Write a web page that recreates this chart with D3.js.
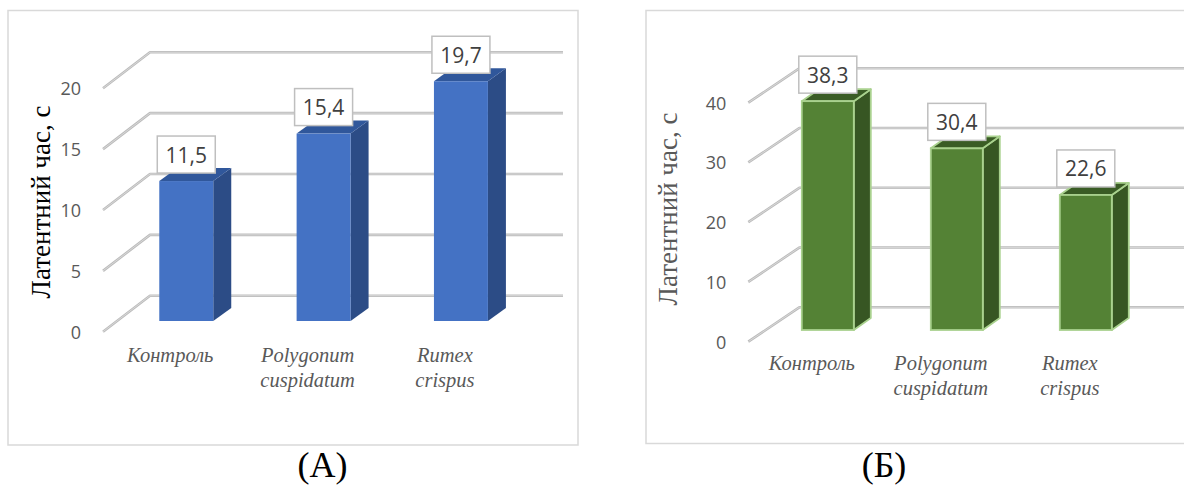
<!DOCTYPE html>
<html>
<head>
<meta charset="utf-8">
<script src="https://cdn.jsdelivr.net/npm/d3@7"></script>
<style>
  body { margin: 0; background: #fff; }
  svg { display: block; }
  .serif { font-family: "Liberation Serif", "Times New Roman", Times, serif; }
  .sans { font-family: "Open Sans", "Noto Sans", sans-serif; }
</style>
</head>
<body>
<svg id="fig" width="1184" height="485"></svg>
<script>
// Categories (multi-line italic labels), values and axis ticks
const categoryLines = [["Контроль"], ["Polygonum", "cuspidatum"], ["Rumex", "crispus"]];
const latencyA = [11.5, 15.4, 19.7];
const latencyB = [38.3, 30.4, 22.6];
const ticksA = [0, 5, 10, 15, 20];
const ticksB = [0, 10, 20, 30, 40];
const axisTitle = "Латентний час, с";
const panelNames = ["(А)", "(Б)"];

const fmt = d3.formatLocale({ decimal: ",", thousands: " ", grouping: [3], currency: ["", ""] }).format(".1f");

const svg = d3.select("#fig");

// Layout of the two pseudo-3D column panels
const panels = [
  {
    values: latencyA, ticks: ticksA, caption: panelNames[0],
    frame: { x0: 8, y0: 10.5, x1: 578, y1: 445 },
    wall: { left: 150, right: 563, bottom: 295.7, top: 52.3 },
    floor: { dx: -47, dy: 36 },
    barBase: 321,
    band: [117.6, 529.6], pad: 0.607,
    depth: { dx: 18, dy: -13 },
    colors: { front: "#4472C4", side: "#2C4C86", top: "#30579B", stroke: "none" },
    title: { x: 50, y: 202, color: "#000000" },
    catBase: 362,
    captionX: 322.5
  },
  {
    values: latencyB, ticks: ticksB, caption: panelNames[1],
    frame: { x0: 646, y0: 10.5, x1: 1200, y1: 443.5 },
    wall: { left: 799.3, right: 1190, bottom: 307.3, top: 68.3 },
    floor: { dx: -51, dy: 34.4 },
    barBase: 330,
    band: [763.3, 1150.3], pad: 0.597,
    depth: { dx: 17, dy: -12 },
    colors: { front: "#548235", side: "#375623", top: "#3A5C25", stroke: "#A9D18E" },
    title: { x: 677, y: 209, color: "#595959" },
    catBase: 370,
    captionX: 884
  }
];

panels.forEach(p => {
  const g = svg.append("g");
  const maxV = p.ticks[p.ticks.length - 1];

  // chart area border
  g.append("rect")
    .attr("x", p.frame.x0).attr("y", p.frame.y0)
    .attr("width", p.frame.x1 - p.frame.x0).attr("height", p.frame.y1 - p.frame.y0)
    .attr("fill", "none").attr("stroke", "#D9D9D9").attr("stroke-width", 1.5);

  // back wall value scale and bar front-plane value scale
  const yWall = d3.scaleLinear().domain([0, maxV]).range([p.wall.bottom, p.wall.top]);
  const yBar = d3.scaleLinear().domain([0, maxV])
    .range([p.barBase, p.barBase - (p.wall.bottom - p.wall.top)]);
  const x = d3.scaleBand().domain(d3.range(p.values.length))
    .range(p.band).paddingInner(p.pad).paddingOuter(p.pad / 2);

  // gridlines: side-wall diagonal + back-wall horizontal
  const gridPath = t => {
    const y = yWall(t);
    return `M${p.wall.left + p.floor.dx},${y + p.floor.dy}L${p.wall.left},${y}L${p.wall.right},${y}`;
  };
  const grid = g.append("g").attr("fill", "none").attr("stroke-linejoin", "round");
  grid.selectAll("path.outer").data(p.ticks).join("path").attr("class", "outer")
    .attr("d", gridPath).attr("stroke", "#BCBCBC").attr("stroke-width", 2.6);
  grid.selectAll("path.inner").data(p.ticks).join("path").attr("class", "inner")
    .attr("d", gridPath).attr("stroke", "#DADADA").attr("stroke-width", 0.9);

  // tick labels at front edge
  g.append("g").selectAll("text").data(p.ticks).join("text")
    .attr("class", "sans")
    .attr("x", p.wall.left + p.floor.dx - 22)
    .attr("y", t => yWall(t) + p.floor.dy)
    .attr("text-anchor", "end").attr("dominant-baseline", "central")
    .attr("font-size", 18)
    .attr("fill", "#595959")
    .text(t => t);

  // bars
  const bw = x.bandwidth();
  const bars = g.append("g").selectAll("g").data(p.values).join("g");
  const sw = p.colors.stroke === "none" ? 0 : 1.8;
  bars.append("polygon")
    .attr("points", (v, i) => {
      const x0 = x(i) + bw, t = yBar(v), b = p.barBase, d = p.depth;
      return [[x0, t], [x0 + d.dx, t + d.dy], [x0 + d.dx, b + d.dy], [x0, b]].join(" ");
    })
    .attr("fill", p.colors.side).attr("stroke", p.colors.stroke).attr("stroke-width", sw)
    .attr("stroke-linejoin", "round");
  bars.append("polygon")
    .attr("points", (v, i) => {
      const x0 = x(i), t = yBar(v), d = p.depth;
      return [[x0, t], [x0 + d.dx, t + d.dy], [x0 + bw + d.dx, t + d.dy], [x0 + bw, t]].join(" ");
    })
    .attr("fill", p.colors.top).attr("stroke", p.colors.stroke).attr("stroke-width", sw)
    .attr("stroke-linejoin", "round");
  bars.append("rect")
    .attr("x", (v, i) => x(i)).attr("y", v => yBar(v))
    .attr("width", bw).attr("height", v => p.barBase - yBar(v))
    .attr("fill", p.colors.front).attr("stroke", p.colors.stroke).attr("stroke-width", sw);

  // value callouts
  const boxW = 58, boxH = 37, gap = 8;
  const lab = g.append("g").selectAll("g").data(p.values).join("g")
    .attr("transform", (v, i) => `translate(${x(i) + bw / 2},${yBar(v) - gap - boxH / 2})`);
  lab.append("rect")
    .attr("x", -boxW / 2).attr("y", -boxH / 2).attr("width", boxW).attr("height", boxH)
    .attr("fill", "#FFFFFF").attr("stroke", "#BFBFBF").attr("stroke-width", 1.5);
  lab.append("text")
    .attr("class", "sans")
    .attr("text-anchor", "middle").attr("dominant-baseline", "central")
    .attr("font-size", 21)
    .attr("fill", "#404040")
    .text(v => fmt(v));

  // category labels (italic)
  g.append("g").selectAll("text").data(categoryLines).join("text")
    .attr("class", "serif")
    .attr("text-anchor", "middle")
    .attr("font-style", "italic").attr("font-size", 20.5).attr("fill", "#595959")
    .each(function (lines, i) {
      d3.select(this).selectAll("tspan").data(lines).join("tspan")
        .attr("x", x(i) + bw / 2 - 16)
        .attr("y", (s, k) => p.catBase + k * 25)
        .text(s => s);
    });

  // value axis title
  g.append("text")
    .attr("class", "serif")
    .attr("transform", `translate(${p.title.x},${p.title.y}) rotate(-90)`)
    .attr("text-anchor", "middle")
    .attr("font-size", 27).attr("fill", p.title.color)
    .text(axisTitle);

  // panel caption
  svg.append("text")
    .attr("class", "serif")
    .attr("x", p.captionX).attr("y", 477)
    .attr("text-anchor", "middle")
    .attr("font-size", 36).attr("fill", "#000")
    .text(p.caption);
});
</script>
</body>
</html>
